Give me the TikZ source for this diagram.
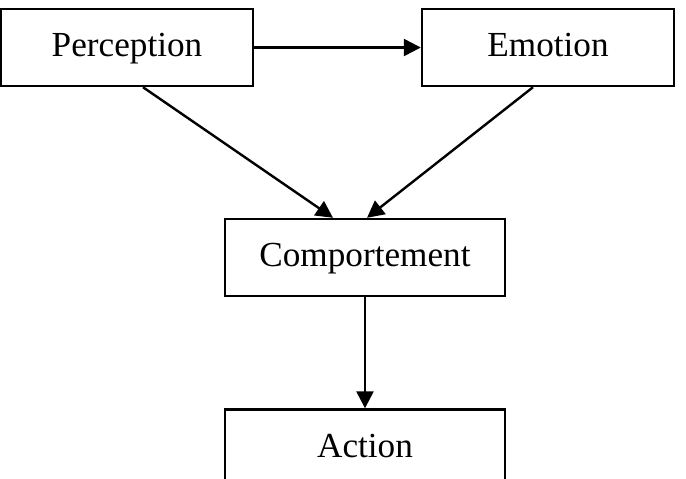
\documentclass[tikz,border=0pt]{standalone}
\usepackage{fontspec}
\setmainfont{Liberation Serif}
\usetikzlibrary{arrows.meta}
\tikzset{
  box/.style={draw, line width=1.2pt, minimum height=38.5pt, inner sep=0pt, text height=13pt, text depth=4pt, font=\fontsize{17.6pt}{20pt}\selectfont},
  conn/.style={line width=1.2pt, -{Triangle[length=8.5pt,width=8.5pt]}}
}
\begin{document}
\begin{tikzpicture}[x=0.5pt,y=-0.5pt]
\useasboundingbox (0,0) rectangle (686,478);
\clip (0,0) rectangle (686,478);
\node[box, minimum width=126pt] (P) at (127,47.5) {Perception};
\node[box, minimum width=126pt] (E) at (548,47.5) {Emotion};
\node[box, minimum width=140pt] (C) at (365,257.5) {Comportement};
\node[box, minimum width=140pt] (A) at (365,448) {Action};
\draw[conn] (P.east) -- (E.west);
\draw[conn] ([xshift=8pt]P.south) -- ([xshift=-16pt]C.north);
\draw[conn] ([xshift=-7.5pt]E.south) -- ([xshift=1pt]C.north);
\draw[conn] (C.south) -- (A.north);
\end{tikzpicture}
\end{document}
